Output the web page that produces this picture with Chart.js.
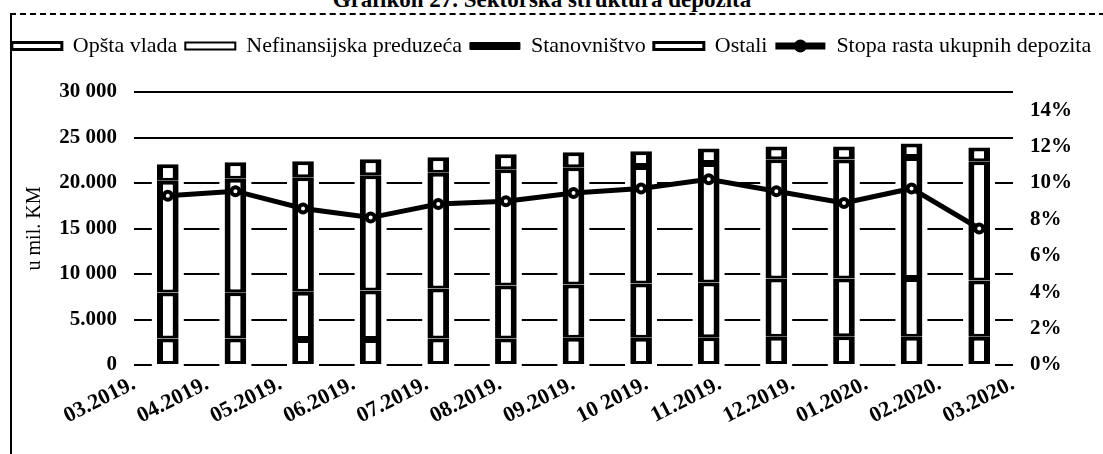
<!DOCTYPE html>
<html>
<head>
<meta charset="utf-8">
<script src="https://cdn.jsdelivr.net/npm/chart.js@4.4.1/dist/chart.umd.min.js"></script>
<style>
    html, body { margin: 0; padding: 0; background: #fff; }
    #wrap { position: relative; width: 1103px; height: 454px; overflow: hidden; }
    #frame { position: absolute; left: 10px; top: 13px; width: 1093px; height: 441px;
             border-left: 2px solid #000; border-top: 2px dashed #000; }
    #title { position: absolute; top: -12px; left: 0; width: 1084px; text-align: center;
             font: bold 23px 'Liberation Serif', 'Times New Roman', serif; line-height: 24px; }
    #title span { background: #fff; padding: 0 5px; }
    canvas { position: absolute; left: 0; top: 0; }
</style>
</head>
<body>
<div id="wrap">
    <div id="frame"></div>
    <canvas id="depoziti" width="1103" height="454"></canvas>
    <div id="title"><span>Grafikon 27. Sektorska struktura depozita</span></div>
</div>
<script>
// months on the x axis
const months = ['03.2019.', '04.2019.', '05.2019.', '06.2019.', '07.2019.', '08.2019.', '09.2019.',
                '10 2019.', '11.2019.', '12.2019.', '01.2020.', '02.2020.', '03.2020.'];

// deposits by sector, u mil. KM
const opstaVlada    = [2900, 2900, 2850, 2850, 2900, 2900, 3000, 3000, 3050, 3100, 3150, 3100, 3100];
const nefinansijska = [5070, 5100, 5200, 5340, 5500, 5830, 5840, 5950, 6010, 6400, 6350, 6450, 6180];
const stanovnistvo  = [12280, 12470, 12580, 12660, 12720, 12770, 12880, 12930, 13140, 13120, 13070, 13300, 13120];
const ostali        = [1800, 1800, 1750, 1750, 1700, 1650, 1650, 1600, 1600, 1400, 1450, 1500, 1500];

// growth rate of total deposits, %
const stopaRasta = [9.3, 9.55, 8.6, 8.1, 8.85, 9.0, 9.45, 9.7, 10.2, 9.55, 8.9, 9.7, 7.5];

// tick labels as printed
const leftTicks = ['0', '5.000', '10 000', '15 000', '20.000', '25 000', '30 000'];

const serif = "'Liberation Serif', 'Times New Roman', serif";
const legendFontSize = 22;

// legend icon look per dataset
const legendFill  = ['#fff', '#fff', '#000', '#fff', '#000'];
const legendWidth = [3, 2, 1, 3, 0];

const barStyle = {
    type: 'bar',
    backgroundColor: '#fff',
    borderColor: '#000',
    borderWidth: { left: 6, right: 6, top: 4, bottom: 3 },
    borderSkipped: false,
    barPercentage: 0.32,
    categoryPercentage: 1,
    stack: 'dep',
    xAxisID: 'x',
    yAxisID: 'y',
    order: 2
};

// extra room under the legend, and the dot on the line legend item
const legendExtras = {
    id: 'legendExtras',
    beforeInit(chart) {
        const fit = chart.legend.fit;
        chart.legend.fit = function () {
            fit.call(this);
            this.height += 25;
        };
    },
    afterDraw(chart) {
        const lg = chart.legend;
        const i = lg.legendItems.findIndex(it => it.datasetIndex === 4);
        if (i < 0) return;
        const hb = lg.legendHitBoxes[i];
        const ctx = chart.ctx;
        ctx.save();
        ctx.fillStyle = '#000';
        ctx.beginPath();
        ctx.arc(hb.left + 25, hb.top + legendFontSize / 2, 6.5, 0, Math.PI * 2);
        ctx.fill();
        ctx.restore();
    }
};

const ctx = document.getElementById('depoziti').getContext('2d');
Chart.defaults.color = '#000';
Chart.defaults.font.family = serif;

new Chart(ctx, {
    data: {
        labels: months,
        datasets: [
            Object.assign({ label: 'Opšta vlada', data: opstaVlada }, barStyle),
            Object.assign({ label: 'Nefinansijska preduzeća', data: nefinansijska }, barStyle),
            Object.assign({ label: 'Stanovništvo', data: stanovnistvo }, barStyle),
            Object.assign({ label: 'Ostali', data: ostali }, barStyle),
            {
                type: 'line',
                label: 'Stopa rasta ukupnih depozita',
                data: stopaRasta,
                xAxisID: 'x',
                yAxisID: 'y2',
                borderColor: '#000',
                backgroundColor: '#000',
                borderWidth: 5,
                pointRadius: 4,
                pointBorderWidth: 4,
                pointBackgroundColor: '#fff',
                pointBorderColor: '#000',
                tension: 0,
                order: 1
            }
        ]
    },
    options: {
        responsive: false,
        animation: false,
        layout: { padding: { top: 27, left: 0, right: 0, bottom: 0 } },
        plugins: {
            tooltip: { enabled: false },
            legend: {
                position: 'top',
                labels: {
                    boxWidth: 50,
                    boxHeight: 7,
                    padding: 8,
                    font: { size: legendFontSize, family: serif },
                    sort: (a, b) => a.datasetIndex - b.datasetIndex,
                    generateLabels(chart) {
                        const items = Chart.defaults.plugins.legend.labels.generateLabels(chart);
                        items.forEach(it => {
                            it.fillStyle = legendFill[it.datasetIndex];
                            it.strokeStyle = '#000';
                            it.lineWidth = legendWidth[it.datasetIndex];
                            it.lineDash = [];
                        });
                        return items;
                    }
                }
            }
        },
        scales: {
            // category axis carrying the bars and the line
            x: {
                grid: { display: false, drawTicks: false },
                border: { display: false },
                ticks: { display: false },
                afterFit(scale) { scale.height = 0; }
            },
            // month labels, spread edge to edge as in the printed chart
            xl: {
                type: 'category',
                position: 'bottom',
                labels: months,
                offset: false,
                grid: { display: false, drawTicks: false },
                border: { display: false },
                ticks: {
                    autoSkip: false,
                    minRotation: 27,
                    maxRotation: 27,
                    padding: 6,
                    font: { size: 22, weight: 'bold', family: serif }
                },
                afterFit(scale) { scale.height = 89; }
            },
            y: {
                position: 'left',
                stacked: true,
                min: 0,
                max: 30000,
                ticks: {
                    stepSize: 5000,
                    padding: 17,
                    font: { size: 21, weight: 'bold', family: serif },
                    callback: (v, i) => leftTicks[i]
                },
                grid: {
                    drawTicks: false,
                    lineWidth: 2,
                    color: c => (c.tick && c.tick.value <= 20000) ? '#000' : 'rgba(0,0,0,0)'
                },
                border: { display: false, dash: [35.6, 32], dashOffset: 17.8 },
                title: {
                    display: true,
                    text: 'u mil. KM',
                    padding: { top: 23, bottom: 4 },
                    font: { size: 20, family: serif }
                },
                afterFit(scale) { scale.width = 134; }
            },
            yTop: {
                position: 'left',
                min: 0,
                max: 30000,
                ticks: { display: false, stepSize: 5000 },
                grid: {
                    drawTicks: false,
                    lineWidth: 2,
                    color: c => (c.tick && c.tick.value >= 25000) ? '#000' : 'rgba(0,0,0,0)'
                },
                border: { display: false },
                afterFit(scale) { scale.width = 0; }
            },
            y2: {
                position: 'right',
                min: 0,
                max: 15,
                grid: { display: false, drawTicks: false },
                border: { display: false },
                ticks: {
                    stepSize: 2,
                    includeBounds: false,
                    padding: 17,
                    font: { size: 21, weight: 'bold', family: serif },
                    callback: v => v + '%'
                },
                afterFit(scale) { scale.width = 90; }
            }
        }
    },
    plugins: [legendExtras]
});
</script>
</body>
</html>
